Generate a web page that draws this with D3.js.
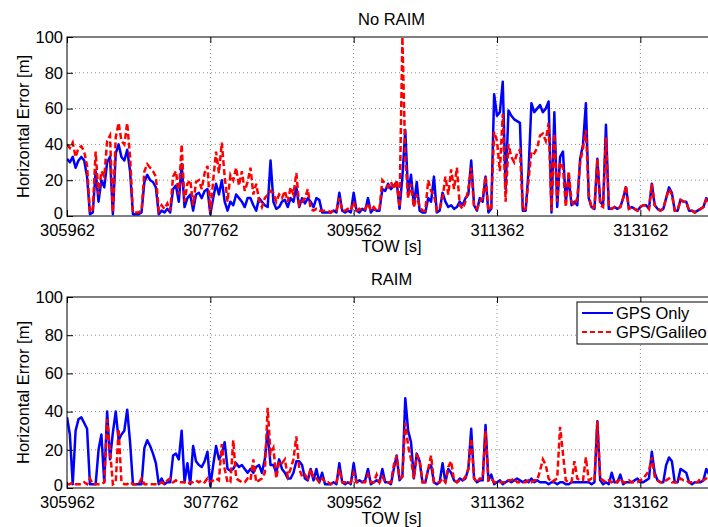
<!DOCTYPE html>
<html>
<head>
<meta charset="utf-8">
<script src="https://cdn.jsdelivr.net/npm/d3@7"></script>
<style>
body { margin: 0; background: #fff; }
text { font-family: "Liberation Sans", Arial, sans-serif; font-size: 16.5px; fill: #000; }
</style>
</head>
<body>
<div class="container"></div>
<script>

// sample grid: one value every 36 s starting at TOW 305962
var t0 = 305962,
    step = 36;

var xTicks = [305962, 307762, 309562, 311362, 313162];
var yTicks = [0, 20, 40, 60, 80, 100];
var seriesNames = ["GPS Only", "GPS/Galileo"];

// No RAIM, GPS only
var nrBlue = [32,30,33,27,31, 33,31,22,1,2, 25,8,20,16,30, 33,1,35,40,33, 31,37,25,1,1,
    1,2,19,23,20, 19,16,1,3,2, 4,2,15,17,8, 29,5,10,12,3, 12,13,10,14,15,
    1,10,18,12,20, 8,3,8,6,12, 10,8,5,10,10, 6,3,10,8,6, 5,31,8,4,5,
    8,9,5,10,8, 16,5,10,7,10, 8,5,10,9,2, 2,2,2,3,2, 13,3,2,3,2,
    13,3,2,4,3, 10,2,4,3,3, 15,14,18,15,17, 19,4,22,48,12, 23,6,19,3,2,
    2,10,8,22,2, 3,13,8,5,6, 4,5,8,6,10, 12,31,6,3,10, 8,22,2,4,68,
    56,58,75,15,59, 56,54,53,52,3, 3,25,63,58,60, 62,58,60,64,2, 58,5,33,36,8,
    22,6,8,6,32, 40,63,10,5,4, 32,8,6,51,4, 4,5,4,5,10, 16,4,5,4,3,
    5,6,6,4,18, 6,4,3,4,10, 16,13,3,3,9, 8,8,3,3,2, 3,4,5,10,8];

// No RAIM, GPS/Galileo
var nrRed = [40,38,41,33,38, 39,36,28,2,4, 36,12,25,22,42, 45,2,44,52,42, 40,52,33,2,2,
    2,3,25,29,27, 25,22,3,6,4, 7,3,22,25,12, 40,8,18,20,6, 19,20,15,24,28,
    2,20,36,24,41, 22,8,23,20,27, 17,25,14,19,27, 12,18,9,5,10, 12,14,13,8,12,
    10,14,8,16,12, 24,6,8,10,15, 4,3,4,3,3, 3,3,2,3,3, 10,3,3,4,3,
    8,3,4,3,4, 7,3,5,3,4, 20,18,16,19,15, 20,5,100,33,10, 18,5,12,5,3,
    3,20,14,12,3, 4,10,22,12,26, 15,27,6,4,8, 15,27,5,4,8, 10,22,3,5,47,
    42,25,57,8,40, 33,30,35,37,3, 4,20,36,35,38, 45,46,42,52,3, 46,8,30,27,5,
    25,8,6,10,30, 38,48,12,4,5, 32,6,5,44,5, 4,5,4,5,10, 17,4,5,4,3,
    5,6,6,4,18, 6,4,3,4,10, 15,12,3,3,9, 8,8,3,3,2, 3,4,5,9,6];

// RAIM, GPS only
var rBlue = [37,28,2,30,36, 37,34,31,2,2, 2,20,28,3,40, 15,29,40,25,28, 30,41,24,2,2,
    2,2,21,25,22, 18,13,2,5,2, 3,3,17,18,15, 30,3,13,2,22, 14,12,11,14,19,
    1,12,22,15,18, 24,10,9,10,13, 11,12,10,8,10, 8,11,12,8,15, 30,12,12,8,15,
    10,8,5,5,8, 14,14,12,5,4, 10,4,10,3,8, 2,2,2,3,2, 13,3,2,3,2,
    13,3,4,3,4, 10,2,3,4,3, 10,3,3,2,10, 17,4,6,47,30, 24,5,18,14,3,
    3,10,12,3,2, 3,13,3,10,8, 4,3,5,4,5, 10,31,5,3,4, 4,33,4,7,2,
    3,4,2,3,4, 3,4,5,4,3, 4,3,5,3,4, 3,3,3,2,3, 3,2,3,3,2,
    2,3,3,3,3, 3,3,3,2,3, 35,4,2,3,2, 8,3,3,7,2, 3,3,3,4,5,
    3,3,4,5,19, 8,4,3,3,12, 16,14,3,3,10, 9,8,3,2,3, 3,3,4,10,7];

// RAIM, GPS/Galileo
var rRed = [2,2,3,2,2, 2,3,2,5,2, 2,2,2,3,36, 20,2,3,31,3, 2,2,3,2,2,
    2,5,2,2,2, 2,2,2,3,2, 4,5,3,4,3, 3,3,2,3,3, 4,3,4,3,5,
    3,4,5,4,23, 10,3,3,25,5, 4,3,3,5,4, 15,3,4,5,8, 42,18,21,5,14,
    13,15,6,10,15, 27,10,6,7,5, 10,5,5,3,5, 3,3,2,3,3, 10,3,3,2,3,
    8,3,3,3,3, 7,3,3,7,3, 6,3,3,3,12, 17,5,6,34,22, 15,5,17,15,3,
    3,10,17,3,3, 3,5,3,11,14, 4,3,4,4,6, 10,26,5,3,5, 5,30,4,5,3,
    3,3,3,3,4, 4,5,3,3,3, 3,4,3,4,4, 9,15,12,5,3, 4,5,32,18,4,
    3,3,14,5,4, 4,16,4,5,4, 35,5,4,3,4, 3,4,3,5,3, 3,4,3,3,3,
    4,5,7,9,16, 6,4,3,3,4, 5,3,3,3,5, 4,4,3,3,3, 3,5,4,5,4];

var tow = d3.range(nrBlue.length).map(function(i) { return t0 + i * step; });

var width = 708,
    height = 527,
    left = 67,
    plotW = 649;

var svg = d3.select("div.container").append("svg")
    .attr("width", width)
    .attr("height", height);

var x = d3.scaleLinear()
    .domain([305962, 314112])
    .range([left, left + plotW]);

var panels = [
    {title: "No RAIM", top: 37, bottom: 216, blue: nrBlue, red: nrRed, legend: false},
    {title: "RAIM", top: 297, bottom: 488, blue: rBlue, red: rRed, legend: true}
];

panels.forEach(function(p, k) {
    var y = d3.scaleLinear().domain([0, 100]).range([p.bottom, p.top]);
    var g = svg.append("g");

    svg.append("clipPath").attr("id", "clip" + k)
        .append("rect")
        .attr("x", left).attr("y", p.top)
        .attr("width", plotW).attr("height", p.bottom - p.top);

    // dotted grid
    g.selectAll(".gy").data(yTicks.slice(1, -1))
        .enter().append("line")
        .attr("x1", left).attr("x2", left + plotW)
        .attr("y1", function(d) { return y(d); })
        .attr("y2", function(d) { return y(d); })
        .attr("stroke", "#8c8c8c").attr("stroke-dasharray", "1,3");
    g.selectAll(".gx").data(xTicks.slice(1))
        .enter().append("line")
        .attr("x1", function(d) { return x(d); })
        .attr("x2", function(d) { return x(d); })
        .attr("y1", p.top).attr("y2", p.bottom)
        .attr("stroke", "#8c8c8c").attr("stroke-dasharray", "1,3");

    var line = d3.line()
        .x(function(d, i) { return x(tow[i]); })
        .y(function(d) { return y(d); });

    g.append("path")
        .datum(p.blue)
        .attr("clip-path", "url(#clip" + k + ")")
        .attr("fill", "none")
        .attr("stroke", "#0000ff")
        .attr("stroke-width", 2.5)
        .attr("stroke-linejoin", "round")
        .attr("d", line);

    g.append("path")
        .datum(p.red)
        .attr("clip-path", "url(#clip" + k + ")")
        .attr("fill", "none")
        .attr("stroke", "#ff0000")
        .attr("stroke-width", 2.5)
        .attr("stroke-dasharray", "6,3")
        .attr("d", line);

    // axes, ticks pointing inwards
    var xb = g.append("g")
        .attr("transform", "translate(0," + p.bottom + ")")
        .call(d3.axisBottom(x).tickValues(xTicks).tickFormat(d3.format("d"))
            .tickSizeInner(-6).tickSizeOuter(0).tickPadding(8));
    var xt = g.append("g")
        .attr("transform", "translate(0," + p.top + ")")
        .call(d3.axisTop(x).tickValues(xTicks).tickFormat("")
            .tickSizeInner(-6).tickSizeOuter(0));
    var yl = g.append("g")
        .attr("transform", "translate(" + left + ",0)")
        .call(d3.axisLeft(y).tickValues(yTicks)
            .tickSizeInner(-6).tickSizeOuter(0).tickPadding(4));
    [xb, xt, yl].forEach(function(a) {
        a.select(".domain").remove();
        a.selectAll("text").attr("font-size", null).attr("font-family", null);
        a.selectAll("line").attr("stroke", "#000");
    });
    // lift the "0" a touch so it clears the first TOW label
    yl.selectAll("text").filter(function(d) { return d === 0; }).attr("dy", "0.15em");

    g.append("rect")
        .attr("x", left).attr("y", p.top)
        .attr("width", plotW).attr("height", p.bottom - p.top)
        .attr("fill", "none").attr("stroke", "#000");

    g.append("text")
        .attr("x", left + plotW / 2).attr("y", p.top - 12)
        .attr("text-anchor", "middle")
        .text(p.title);

    g.append("text")
        .attr("x", left + plotW / 2).attr("y", p.bottom + 36)
        .attr("text-anchor", "middle")
        .text("TOW [s]");

    g.append("text")
        .attr("transform", "translate(29," + ((p.top + p.bottom) / 2) + ") rotate(-90)")
        .attr("text-anchor", "middle")
        .text("Horizontal Error [m]");

    if (p.legend) {
        var lg = g.append("g");
        lg.append("rect")
            .attr("x", 577).attr("y", 302)
            .attr("width", 140).attr("height", 42)
            .attr("fill", "#fff").attr("stroke", "#000");
        seriesNames.forEach(function(name, j) {
            var ly = 313 + j * 19;
            lg.append("line")
                .attr("x1", 582).attr("x2", 613)
                .attr("y1", ly).attr("y2", ly)
                .attr("stroke", j == 0 ? "#0000ff" : "#ff0000")
                .attr("stroke-width", 2)
                .attr("stroke-dasharray", j == 0 ? null : "5,3");
            lg.append("text")
                .attr("x", 616).attr("y", ly + 6)
                .text(name);
        });
    }
});

</script>
</body>
</html>
